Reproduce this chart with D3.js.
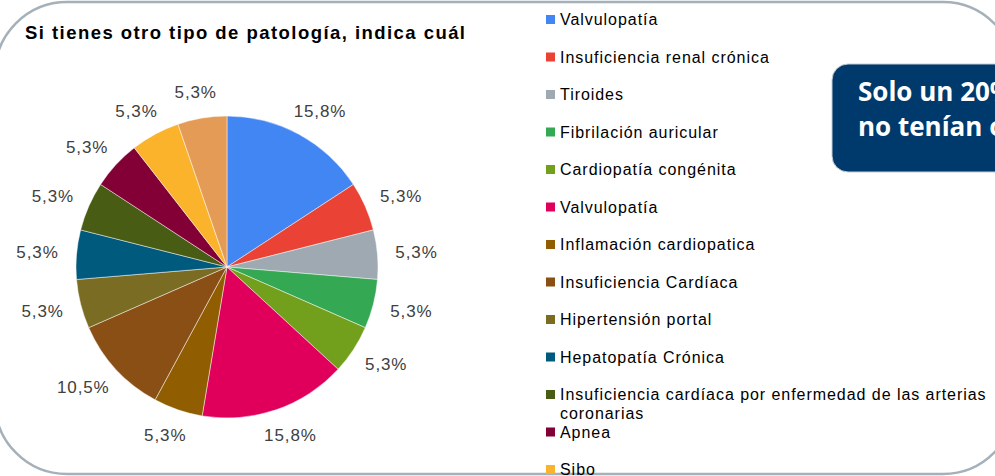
<!DOCTYPE html>
<html>
<head>
<meta charset="utf-8">
<script src="https://cdn.jsdelivr.net/npm/d3@7"></script>
<style>
  body { margin: 0; background: #fff; overflow: hidden; }
  svg { display: block; }
</style>
</head>
<body>
<svg width="995" height="476"></svg>
<script>
const width = 995, height = 476;

// chart data
const title = "Si tienes otro tipo de patología, indica cuál";
const categories = [
  "Valvulopatía",
  "Insuficiencia renal crónica",
  "Tiroides",
  "Fibrilación auricular",
  "Cardiopatía congénita",
  "Valvulopatía",
  "Inflamación cardiopatica",
  "Insuficiencia Cardíaca",
  "Hipertensión portal",
  "Hepatopatía Crónica",
  "Insuficiencia cardíaca por enfermedad de las arterias coronarias",
  "Apnea",
  "Sibo",
  "Otras"
];
const counts = [3, 1, 1, 1, 1, 3, 1, 2, 1, 1, 1, 1, 1, 1];
const sliceColors = [
  "#4286f4", "#ea4335", "#9ea9b1", "#34a853", "#72a01c", "#e0005b", "#905d00",
  "#8a4f15", "#7b6c24", "#005a7e", "#485c14", "#820035", "#fbb32c", "#e49b55"
];
const calloutLines = ["Solo un 20% de los encuestados", "no tenían otra patología"];

const svg = d3.select("svg");

// outer rounded frame
svg.append("rect")
  .attr("x", -5).attr("y", 2)
  .attr("width", 1020).attr("height", 472)
  .attr("rx", 72).attr("ry", 72)
  .attr("fill", "#fff")
  .attr("stroke", "#a5b1ba")
  .attr("stroke-width", 2.5)

// title
svg.append("text")
  .attr("x", 25).attr("y", 39)
  .attr("font-family", "Liberation Sans, Arial, sans-serif")
  .attr("font-size", "18.5px")
  .attr("font-weight", "bold")
  .attr("letter-spacing", "1.45px")
  .attr("fill", "#000")
  .text(title)

// pie
const cx = 227, cy = 267, radius = 151;
const total = d3.sum(counts);
const pie = d3.pie().sort(null).value(d => d);
const arcs = pie(counts);
const arc = d3.arc().innerRadius(0).outerRadius(radius);

const g = svg.append("g").attr("transform", `translate(${cx}, ${cy})`);

g.selectAll("path")
  .data(arcs)
  .join("path")
  .attr("d", arc)
  .attr("fill", (d, i) => sliceColors[i])
  .attr("stroke", "#fff")
  .attr("stroke-opacity", 0.6)
  .attr("stroke-width", 0.8)

// percentage labels: anchored just outside the rim, box pushed outward
const anchorR = radius + 18, labelH = 17;
const fmt = v => (v / total * 100).toFixed(1).replace(".", ",") + "%";
const labels = g.selectAll("text.lbl")
  .data(arcs)
  .join("text")
  .attr("class", "lbl")
  .attr("dy", "0.35em")
  .attr("text-anchor", "middle")
  .attr("font-family", "Liberation Sans, Arial, sans-serif")
  .attr("font-size", "17px")
  .attr("letter-spacing", "0.9px")
  .attr("fill", "#404040")
  .text(d => fmt(d.value))

labels.each(function(d) {
  const a = (d.startAngle + d.endAngle) / 2;
  const w = this.getComputedTextLength();
  const s = Math.sin(a), c = Math.cos(a);
  d3.select(this)
    .attr("x", anchorR * s + (w / 2) * s)
    .attr("y", -anchorR * c - (labelH / 2) * c)
});

// legend
const legX = 546, legY0 = 25, legStep = 37.5, legMaxW = 430;
const leg = svg.append("g");
categories.forEach((name, i) => {
  const y = legY0 + i * legStep;
  leg.append("rect")
    .attr("x", legX).attr("y", y - 10)
    .attr("width", 9).attr("height", 9)
    .attr("fill", sliceColors[i])
  const t = leg.append("text")
    .attr("x", legX + 14).attr("y", y)
    .attr("font-family", "Liberation Sans, Arial, sans-serif")
    .attr("font-size", "16px")
    .attr("letter-spacing", "0.95px")
    .attr("fill", "#000")
  // simple word wrap
  const words = name.split(" ");
  let line = [];
  let tspan = t.append("tspan").attr("x", legX + 14).attr("dy", 0);
  words.forEach(w => {
    line.push(w);
    tspan.text(line.join(" "));
    if (tspan.node().getComputedTextLength() > legMaxW && line.length > 1) {
      line.pop();
      tspan.text(line.join(" "));
      line = [w];
      tspan = t.append("tspan").attr("x", legX + 14).attr("dy", "1.2em").text(w);
    }
  });
});

// callout box
const callout = svg.append("g");
callout.append("rect")
  .attr("x", 832).attr("y", 64)
  .attr("width", 260).attr("height", 108)
  .attr("rx", 16).attr("ry", 16)
  .attr("fill", "#003a6c")
  .attr("stroke", "#c3ccd4")
  .attr("stroke-width", 1)
callout.selectAll("text")
  .data(calloutLines)
  .join("text")
  .attr("x", 858)
  .attr("y", (d, i) => 101 + i * 35)
  .attr("font-family", "Open Sans, sans-serif")
  .attr("font-size", "26px")
  .attr("font-weight", "bold")
  .attr("fill", "#fff")
  .text(d => d)
</script>
</body>
</html>
